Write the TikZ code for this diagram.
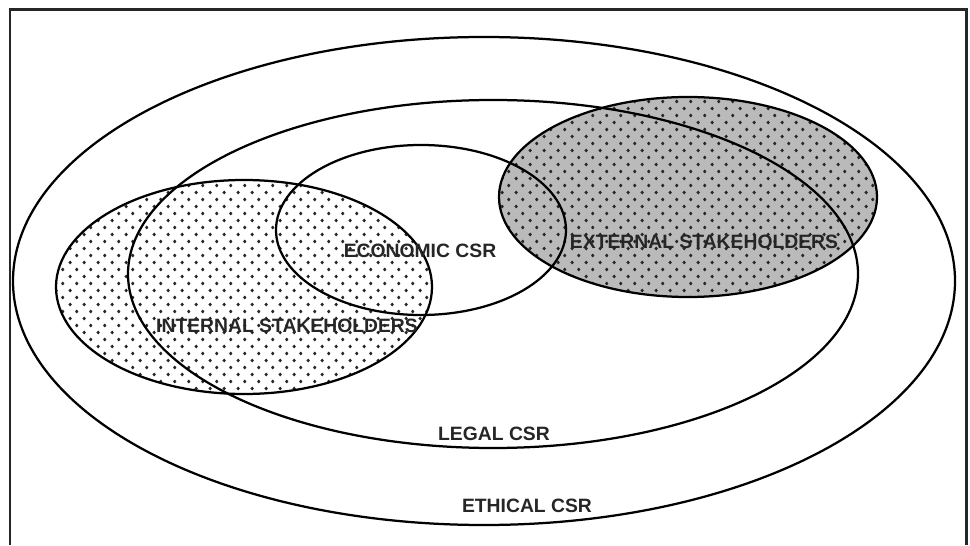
\documentclass[tikz,border=0pt]{standalone}
\usepackage{fontspec}
\setmainfont{Liberation Sans}
\usetikzlibrary{patterns}

\pgfdeclarepatternformonly{csrdots}{\pgfpointorigin}{\pgfqpoint{0.27cm}{0.28cm}}{\pgfqpoint{0.27cm}{0.28cm}}{%
  \pgfpathcircle{\pgfqpoint{0.067cm}{0.07cm}}{0.036cm}%
  \pgfpathcircle{\pgfqpoint{0.202cm}{0.21cm}}{0.036cm}%
  \pgfusepath{fill}%
}

\tikzset{
  csrline/.style={line width=0.045cm},
  csrlabel/.style={font=\fontsize{11}{13}\selectfont\bfseries, text=black!85, inner sep=0pt}
}

\begin{document}
\begin{tikzpicture}[x=0.02cm,y=0.02cm]
                \useasboundingbox (0,0) rectangle (970,545);
                
                % Frame
                \draw [line width=0.06cm, black!85] (10,0) -- (10,535.3) -- (966,535.3) -- (966,0);%
                
                % Filling internal stakeholders
                \fill [white] (244,258) ellipse [x radius=188, y radius=107];%
                \fill [pattern=csrdots, pattern color=black!85] (244,258) ellipse [x radius=188, y radius=107];%
                
                % Filling external stakeholders
                \fill [black!27] (688,348) ellipse [x radius=189, y radius=100];%
                \fill [pattern=csrdots, pattern color=black!85] (688,348) ellipse [x radius=189, y radius=100];%
                
                % Drawing ethical CSR
                \draw [csrline] (484,264) ellipse [x radius=471, y radius=244];%
                
                % Drawing legal CSR
                \draw [csrline] (493,271) ellipse [x radius=365, y radius=174];%
                
                % Drawing economic CSR
                \draw [csrline] (421,315) ellipse [x radius=145, y radius=85];%
                
                % Drawing internal stakeholders
                \draw [csrline] (244,258) ellipse [x radius=188, y radius=107];%
                
                % Drawing external stakeholders
                \draw [csrline] (688,348) ellipse [x radius=189, y radius=100];%
                
                % Labels
                \node [csrlabel] (economic) at (420,294) {ECONOMIC CSR};%
                \node [csrlabel] (internal) at (287,219) {INTERNAL STAKEHOLDERS};%
                \node [csrlabel] (external) at (704,303) {EXTERNAL STAKEHOLDERS};%
                \node [csrlabel] (legal) at (494,111) {LEGAL CSR};%
                \node [csrlabel] (ethical) at (527,39) {ETHICAL CSR};%
            \end{tikzpicture}
\end{document}
